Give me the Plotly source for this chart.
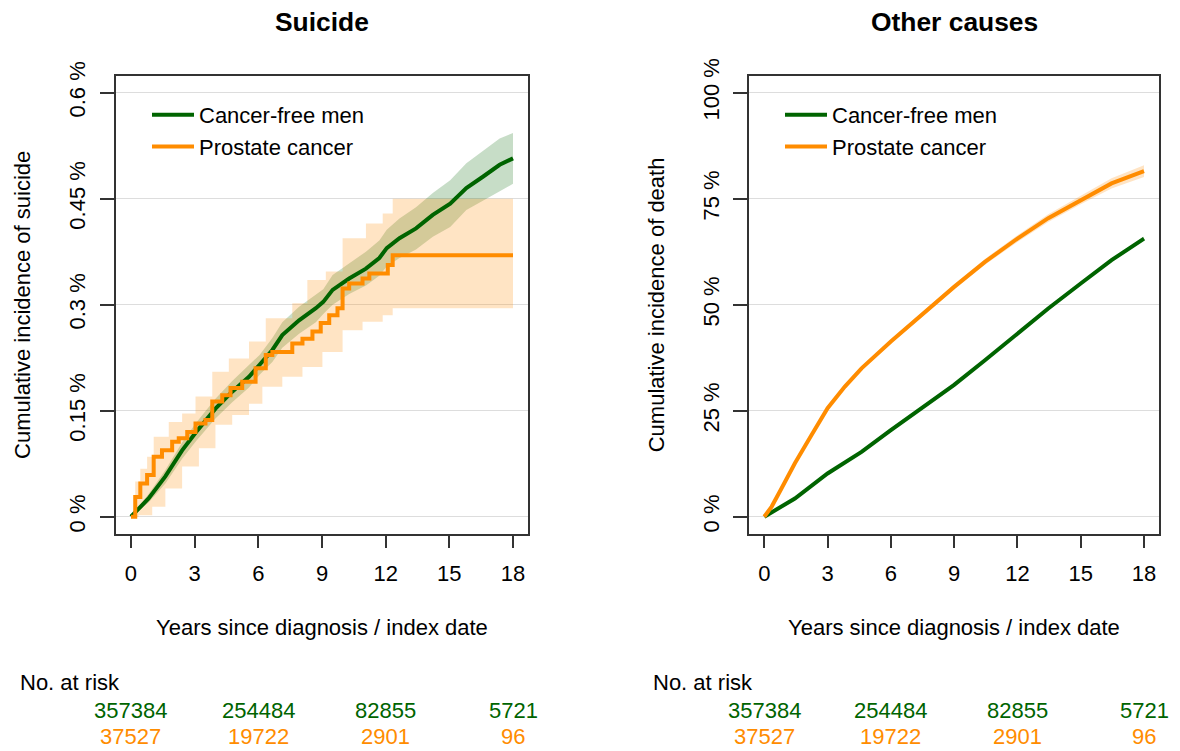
import plotly.graph_objects as go

FONT = "Liberation Sans, Arial, sans-serif"
GREEN = "#006400"
ORANGE = "#FF8C00"
GREEN_BAND = "rgba(0,100,0,0.22)"
ORANGE_BAND = "rgba(255,140,0,0.23)"

names = ["Cancer-free men", "Prostate cancer"]
panel_titles = ["Suicide", "Other causes"]
y_titles = ["Cumulative incidence of suicide", "Cumulative incidence of death"]
x_title = "Years since diagnosis / index date"

x_ticks = [0, 3, 6, 9, 12, 15, 18]
y1_ticks = [0, 0.15, 0.3, 0.45, 0.6]
y1_labels = ["0 %", "0.15 %", "0.3 %", "0.45 %", "0.6 %"]
y2_ticks = [0, 25, 50, 75, 100]
y2_labels = ["0 %", "25 %", "50 %", "75 %", "100 %"]

# ---- Suicide: cancer-free men (cumulative incidence, %)
t_sg = [0, 0.83, 1.62, 2.41, 3.07, 3.98, 4.77, 5.56, 6.06, 6.66, 7.13, 7.92, 8.71, 9.06, 9.5,
        10.28, 11.07, 11.7, 12.05, 12.65, 13.43, 14.22, 15.04, 15.8, 16.58, 17.37, 18]
v_sg = [0, 0.026, 0.057, 0.094, 0.120, 0.153, 0.177, 0.198, 0.215, 0.236, 0.257, 0.278, 0.295,
        0.304, 0.321, 0.337, 0.351, 0.366, 0.380, 0.394, 0.408, 0.427, 0.443, 0.465, 0.481, 0.498, 0.507]
lo_sg = [0, 0.020, 0.047, 0.082, 0.107, 0.139, 0.162, 0.183, 0.201, 0.219, 0.239, 0.259, 0.275,
         0.287, 0.300, 0.315, 0.327, 0.341, 0.354, 0.366, 0.378, 0.396, 0.410, 0.434, 0.447, 0.461, 0.471]
hi_sg = [0, 0.032, 0.066, 0.105, 0.133, 0.167, 0.192, 0.214, 0.229, 0.253, 0.275, 0.297, 0.315,
         0.322, 0.342, 0.359, 0.375, 0.391, 0.406, 0.422, 0.438, 0.458, 0.476, 0.500, 0.517, 0.535, 0.543]

# ---- Suicide: prostate cancer (step function, %)
t_so = [0, 0.2, 0.44, 0.76, 1.07, 1.46, 1.94, 2.25, 2.65, 3.04, 3.51, 3.83, 4.3, 4.69, 5.24, 5.87,
        6.35, 6.66, 7.6, 8.08, 8.55, 8.94, 9.34, 9.73, 9.97, 10.28, 10.91, 11.23, 12.1, 12.33, 18]
v_so = [0, 0.028, 0.047, 0.059, 0.085, 0.094, 0.106, 0.111, 0.120, 0.132, 0.137, 0.163, 0.172,
        0.182, 0.191, 0.210, 0.229, 0.233, 0.245, 0.252, 0.262, 0.274, 0.285, 0.295, 0.323, 0.330,
        0.337, 0.344, 0.356, 0.370, 0.370]
t_so_hi = [0, 0.2, 0.44, 0.76, 1.07, 1.78, 2.41, 3.04, 3.83, 4.61, 5.56, 6.35, 7.6, 8.31, 9.18,
           9.97, 11.07, 11.86, 12.33, 18]
v_so_hi = [0, 0.05, 0.068, 0.085, 0.113, 0.134, 0.146, 0.170, 0.205, 0.224, 0.248, 0.281, 0.302,
           0.335, 0.347, 0.394, 0.415, 0.429, 0.450, 0.450]
t_so_lo = [0, 0.36, 1.0, 1.62, 2.41, 3.2, 3.98, 4.77, 5.56, 6.19, 7.13, 8.08, 9.02, 9.97, 10.91,
           11.86, 12.33, 18]
v_so_lo = [0, 0.002, 0.014, 0.040, 0.071, 0.097, 0.130, 0.144, 0.160, 0.184, 0.198, 0.212, 0.233,
           0.264, 0.276, 0.285, 0.295, 0.295]

# ---- Other causes: cancer-free men (%)
t_og = [0, 1.45, 3, 4.61, 6, 7.46, 9, 10.46, 12, 13.46, 15, 16.46, 18]
v_og = [0, 4.3, 10.2, 15.3, 20.4, 25.5, 31.1, 36.9, 43.2, 49.1, 55.0, 60.5, 65.6]
lo_og = [0, 4.2, 10.1, 15.2, 20.2, 25.3, 30.9, 36.7, 42.9, 48.8, 54.7, 60.1, 65.1]
hi_og = [0, 4.4, 10.3, 15.4, 20.6, 25.7, 31.3, 37.1, 43.5, 49.4, 55.3, 60.9, 66.1]

# ---- Other causes: prostate cancer (%)
t_oo = [0, 0.35, 0.82, 1.45, 2.24, 3, 3.82, 4.61, 6, 7.46, 9, 10.46, 12, 13.46, 15, 16.46, 18]
v_oo = [0, 2.4, 6.7, 12.6, 19.3, 25.6, 30.7, 35.0, 41.3, 47.6, 54.2, 60.1, 65.6, 70.4, 74.7, 78.6, 81.5]
lo_oo = [0, 2.3, 6.5, 12.3, 18.9, 25.2, 30.2, 34.5, 40.8, 47.0, 53.6, 59.4, 64.8, 69.5, 73.7, 77.4, 80.1]
hi_oo = [0, 2.5, 6.9, 12.9, 19.7, 26.0, 31.2, 35.5, 41.8, 48.2, 54.8, 60.8, 66.4, 71.3, 75.7, 79.8, 82.9]

# ---- Numbers at risk
risk_times = [0, 6, 12, 18]
risk_free = ["357384", "254484", "82855", "5721"]
risk_pca = ["37527", "19722", "2901", "96"]

fig = go.Figure()


def band(x_lo, y_lo, x_hi, y_hi, color, xa, ya, shape):
    fig.add_trace(go.Scatter(x=x_lo, y=y_lo, mode="lines", line=dict(width=0, shape=shape),
                             showlegend=False, hoverinfo="skip", xaxis=xa, yaxis=ya))
    fig.add_trace(go.Scatter(x=x_hi, y=y_hi, mode="lines", line=dict(width=0, shape=shape),
                             fill="tonexty", fillcolor=color, showlegend=False,
                             hoverinfo="skip", xaxis=xa, yaxis=ya))


def curve(x, y, color, name, xa, ya, shape, legend):
    fig.add_trace(go.Scatter(x=x, y=y, mode="lines", name=name,
                             line=dict(color=color, width=4, shape=shape),
                             xaxis=xa, yaxis=ya, legend=legend))


# Suicide panel
band(t_sg, lo_sg, t_sg, hi_sg, GREEN_BAND, "x", "y", "linear")
band(t_so_lo, v_so_lo, t_so_hi, v_so_hi, ORANGE_BAND, "x", "y", "hv")
curve(t_sg, v_sg, GREEN, names[0], "x", "y", "linear", "legend")
curve(t_so, v_so, ORANGE, names[1], "x", "y", "hv", "legend")

# Other causes panel
band(t_og, lo_og, t_og, hi_og, GREEN_BAND, "x2", "y2", "linear")
band(t_oo, lo_oo, t_oo, hi_oo, ORANGE_BAND, "x2", "y2", "linear")
curve(t_og, v_og, GREEN, names[0], "x2", "y2", "linear", "legend2")
curve(t_oo, v_oo, ORANGE, names[1], "x2", "y2", "linear", "legend2")

W, H = 1180, 751
box_top, box_bot = 75.7, 533.7
panels = [(115.7, 528.3), (749.1, 1159.2)]


def px(x):
    return x / W


def py(y):
    return (H - y) / H


axis_common = dict(
    showline=True, mirror=True, linecolor="#333333", linewidth=1.5,
    ticks="outside", tickcolor="#333333", tickwidth=1.5,
    tickfont=dict(family=FONT, size=22, color="#000000"),
    zeroline=False, fixedrange=True, automargin=False,
)

legend_common = dict(xanchor="left", yanchor="top", bgcolor="rgba(0,0,0,0)",
                     font=dict(family=FONT, size=22, color="#000000"),
                     itemwidth=42, tracegroupgap=0, traceorder="normal")

fig.update_layout(
    template="none",
    width=W, height=H,
    margin=dict(l=0, r=0, t=0, b=0, autoexpand=False),
    paper_bgcolor="white", plot_bgcolor="white",
    font=dict(family=FONT, size=22, color="#000000"),
    xaxis=dict(domain=[px(panels[0][0]), px(panels[0][1])], range=[-0.72, 18.72],
               tickvals=x_ticks, ticklen=13, showgrid=False, anchor="y",
               ticklabelstandoff=6, **axis_common),
    yaxis=dict(domain=[py(box_bot), py(box_top)], range=[-0.024, 0.624],
               tickvals=y1_ticks, ticktext=y1_labels, tickangle=-90, ticklen=14,
               showgrid=True, gridcolor="#DDDDDD", gridwidth=1, anchor="x",
               ticklabelstandoff=6, **axis_common),
    xaxis2=dict(domain=[px(panels[1][0]), px(panels[1][1])], range=[-0.72, 18.72],
                tickvals=x_ticks, ticklen=13, showgrid=False, anchor="y2",
                ticklabelstandoff=6, **axis_common),
    yaxis2=dict(domain=[py(box_bot), py(box_top)], range=[-4, 104],
                tickvals=y2_ticks, ticktext=y2_labels, tickangle=-90, ticklen=14,
                showgrid=True, gridcolor="#DDDDDD", gridwidth=1, anchor="x2",
                ticklabelstandoff=6, **axis_common),
    legend=dict(x=px(147), y=py(94), **legend_common),
    legend2=dict(x=px(780), y=py(94), **legend_common),
)

annotations = []
for i, (l, r) in enumerate(panels):
    cx = (l + r) / 2
    xr = "x" if i == 0 else "x2"
    annotations.append(dict(text="<b>" + panel_titles[i] + "</b>", x=px(cx), y=py(22.5),
                            xref="paper", yref="paper", xanchor="center", yanchor="middle",
                            showarrow=False, font=dict(family=FONT, size=26.4, color="#000000")))
    annotations.append(dict(text=x_title, x=px(cx), y=py(627.5), xref="paper", yref="paper",
                            xanchor="center", yanchor="middle", showarrow=False,
                            font=dict(family=FONT, size=22, color="#000000")))
    annotations.append(dict(text=y_titles[i], x=px(l - 92.5), y=py((box_top + box_bot) / 2),
                            xref="paper", yref="paper", xanchor="center", yanchor="middle",
                            textangle=-90, showarrow=False,
                            font=dict(family=FONT, size=22, color="#000000")))
    annotations.append(dict(text="No. at risk", x=px(l - 98), y=py(682.5), xref="paper",
                            yref="paper", xanchor="left", yanchor="middle", showarrow=False,
                            font=dict(family=FONT, size=22, color="#000000")))
    for t, a, b in zip(risk_times, risk_free, risk_pca):
        annotations.append(dict(text=a, x=t, xref=xr, y=py(710), yref="paper",
                                xanchor="center", yanchor="middle", showarrow=False,
                                font=dict(family=FONT, size=22, color=GREEN)))
        annotations.append(dict(text=b, x=t, xref=xr, y=py(736.5), yref="paper",
                                xanchor="center", yanchor="middle", showarrow=False,
                                font=dict(family=FONT, size=22, color=ORANGE)))

fig.update_layout(annotations=annotations)

fig.write_html("out.html")
